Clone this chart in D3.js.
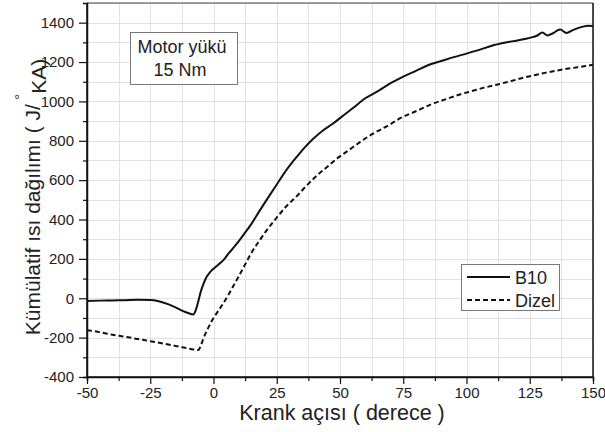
<!DOCTYPE html>
<html>
<head>
<meta charset="utf-8">
<script src="https://cdn.jsdelivr.net/npm/d3@7"></script>
<style>
  html, body { margin: 0; padding: 0; background: #fff; }
  svg { display: block; }
  svg text { font-family: "Liberation Sans", Arial, sans-serif; }
</style>
</head>
<body>
<svg id="chart" width="605" height="432"></svg>
<script>
// Crank angle (degrees) and cumulative heat release (J/°CA)
const angleB10 = [-50,-45,-40,-35,-30,-25,-22,-18,-15,-12,-10,-8,-7,-6,-5,-4,-3,-2,-1,0,2,4,6,8,10,12,15,18,21,25,29,33,36,39,43,47,50,55,60,65,70,75,80,85,90,95,100,105,110,115,120,125,128,130,132,134,137,139.5,142,146,148,150];
const heatB10  = [-14,-12,-11,-10,-8,-9,-14,-30,-46,-65,-75,-82,-60,-15,35,72,102,122,138,150,172,195,228,258,290,325,378,440,500,578,655,720,765,805,850,885,915,965,1016,1052,1093,1126,1155,1185,1205,1225,1243,1262,1283,1298,1310,1323,1335,1350,1335,1345,1365,1348,1362,1380,1385,1383];

const angleDizel = [-50,-45,-40,-35,-30,-25,-20,-15,-10,-8,-6,-5,-4,-3,-2,-1,0,2,4,6,8,10,12,15.7,18,21,25,29,33,37,41,45,49,53,57,61,65,70,74,80,86,92,98,102,107,112,118,125,131,138,144,150];
const heatDizel  = [-162,-172,-185,-195,-207,-218,-230,-242,-255,-260,-263,-240,-205,-175,-148,-124,-100,-62,-23,20,66,112,160,246,290,345,410,470,520,575,625,668,712,748,785,820,850,885,916,950,985,1012,1038,1052,1070,1085,1105,1128,1145,1162,1174,1186];

const xTicks = [-50,-25,0,25,50,75,100,125,150];
const yTicks = [-400,-200,0,200,400,600,800,1000,1200,1400];

const svg = d3.select("#chart");
const L = 87, R = 593, T = 3, B = 377;

const x = d3.scaleLinear().domain([-50, 150]).range([L, R]);
const y = d3.scaleLinear().domain([-400, 1500]).range([B, T]);

// light grid at every minor step
const gx = d3.range(-50, 150.01, 12.5);
const gy = d3.range(-400, 1500.01, 100);
const grid = svg.append("g").attr("stroke", "#e2e2e2").attr("stroke-width", 1);
grid.selectAll(".gv").data(gx).join("line")
  .attr("x1", d => Math.round(x(d)) + 0.5).attr("x2", d => Math.round(x(d)) + 0.5)
  .attr("y1", T).attr("y2", B);
grid.selectAll(".gh").data(gy).join("line")
  .attr("y1", d => Math.round(y(d)) + 0.5).attr("y2", d => Math.round(y(d)) + 0.5)
  .attr("x1", L).attr("x2", R);

// frame top/right
svg.append("line").attr("x1", L).attr("x2", R).attr("y1", T).attr("y2", T)
  .attr("stroke", "#444").attr("stroke-width", 1.2);
svg.append("line").attr("x1", R).attr("x2", R).attr("y1", T).attr("y2", B)
  .attr("stroke", "#111").attr("stroke-width", 1.5);

// minor ticks
const minorX = d3.range(-37.5, 150, 25);
const minorY = d3.range(-300, 1500, 200);
const fmt = d => String(d);

const xAxis = d3.axisBottom(x).tickValues(xTicks).tickSize(7).tickPadding(3).tickFormat(fmt);
const yAxis = d3.axisLeft(y).tickValues(yTicks).tickSize(8).tickPadding(5).tickFormat(fmt);

const gX = svg.append("g").attr("transform", `translate(0,${B})`).call(xAxis);
const gY = svg.append("g").attr("transform", `translate(${L},0)`).call(yAxis);
svg.append("g").attr("transform", `translate(0,${B})`)
  .call(d3.axisBottom(x).tickValues(minorX).tickSize(4).tickFormat(""));
svg.append("g").attr("transform", `translate(${L},0)`)
  .call(d3.axisLeft(y).tickValues(minorY).tickSize(4).tickFormat(""));

svg.selectAll(".domain").attr("stroke", "#111").attr("stroke-width", 1.5);
svg.selectAll(".tick line").attr("stroke", "#111").attr("stroke-width", 1.2);
svg.selectAll("g").attr("font-family", null);
svg.selectAll(".tick text").attr("font-size", 15).attr("fill", "#222");
gY.select(".domain").attr("d", `M0,${T}V${B}`);
gX.select(".domain").attr("d", `M${L},0H${R}`);

// curves
const line = d3.line().x(d => x(d[0])).y(d => y(d[1])).curve(d3.curveMonotoneX);
svg.append("clipPath").attr("id", "clip").append("rect")
  .attr("x", L).attr("y", T).attr("width", R - L).attr("height", B - T);

svg.append("path")
  .datum(angleDizel.map((a, i) => [a, heatDizel[i]]))
  .attr("d", line).attr("fill", "none").attr("stroke", "#111")
  .attr("stroke-width", 2).attr("stroke-dasharray", "5,3")
  .attr("clip-path", "url(#clip)");

svg.append("path")
  .datum(angleB10.map((a, i) => [a, heatB10[i]]))
  .attr("d", line).attr("fill", "none").attr("stroke", "#111")
  .attr("stroke-width", 2).attr("clip-path", "url(#clip)");

// axis titles
svg.append("text").attr("x", 342).attr("y", 420).attr("text-anchor", "middle")
  .attr("font-size", 21.5).attr("fill", "#222").text("Krank açısı ( derece )");

const yt = svg.append("text").attr("transform", "translate(40,197) rotate(-90)")
  .attr("text-anchor", "middle").attr("font-size", 21).attr("fill", "#222");
yt.append("tspan").text("Kümülatif ısı dağılımı ( J/ ");
yt.append("tspan").attr("dy", "-1em").attr("dx", "-0.1em").attr("font-size", 15).text("°");
yt.append("tspan").attr("dy", "1em").text("KA)");

// load annotation
svg.append("rect").attr("x", 130.5).attr("y", 32.5).attr("width", 107).attr("height", 52)
  .attr("fill", "#fff").attr("stroke", "#777").attr("stroke-width", 1);
svg.append("text").attr("x", 182).attr("y", 53).attr("text-anchor", "middle")
  .attr("font-size", 18).attr("fill", "#222").text("Motor yükü");
svg.append("text").attr("x", 180).attr("y", 76).attr("text-anchor", "middle")
  .attr("font-size", 18).attr("fill", "#222").text("15 Nm");

// legend
const lg = svg.append("g");
lg.append("rect").attr("x", 461.5).attr("y", 264.5).attr("width", 98).attr("height", 46)
  .attr("fill", "#fff").attr("stroke", "#777").attr("stroke-width", 1);
const series = ["B10", "Dizel"];
series.forEach((s, i) => {
  const yy = 277 + i * 23;
  lg.append("line").attr("x1", 467).attr("x2", 510).attr("y1", yy).attr("y2", yy)
    .attr("stroke", "#111").attr("stroke-width", 2)
    .attr("stroke-dasharray", i ? "5,3" : null);
  lg.append("text").attr("x", 515).attr("y", yy + 6.5).attr("font-size", 18)
    .attr("fill", "#222").text(s);
});
</script>
</body>
</html>
